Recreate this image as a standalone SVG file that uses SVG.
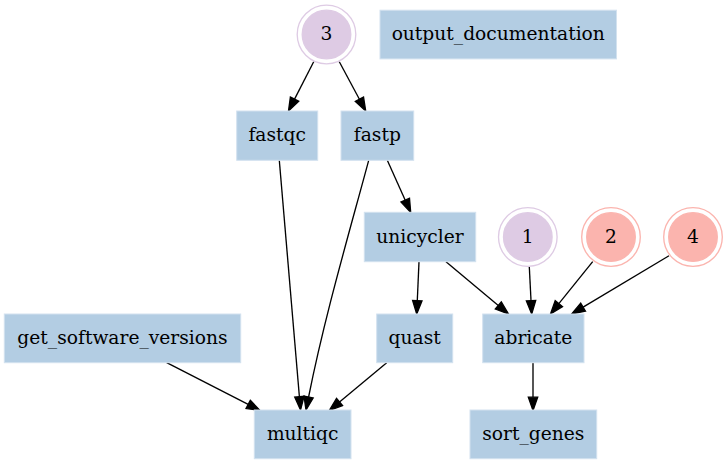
<svg xmlns="http://www.w3.org/2000/svg" width="728" height="464" viewBox="0 0 728 464">
<style>
.box{fill:#b3cde3;stroke:#d3e2ef;stroke-width:1}
.lbl{font-family:"DejaVu Serif",serif;font-size:18.67px;fill:#000;text-anchor:middle}
.pur{fill:#decbe4;stroke:#decbe4;stroke-width:1.33}
.red{fill:#fbb4ae;stroke:#fbb4ae;stroke-width:1.33}
.ring{fill:none;stroke-width:1.33}
.e{fill:none;stroke:#000;stroke-width:1.33;marker-end:url(#ah)}
</style>
<defs>
<marker id="ah" markerUnits="userSpaceOnUse" markerWidth="16" markerHeight="12" refX="0" refY="0" viewBox="-1 -6 16 12" orient="auto" overflow="visible">
<path d="M0,-4.67 L13.3,0 L0,4.67 Z" fill="#000" stroke="#000" stroke-width="1.33"/>
</marker>
</defs>
<rect width="728" height="464" fill="#fff"/>
<g id="connectors">
<path class="e" d="M313.7,61.7 L294.55,99.16"/>
<path class="e" d="M339.3,61.7 L359.42,99.27"/>
<path class="e" d="M279.3,160.3 L299.4,396.75"/>
<path class="e" d="M368.7,160.3 C347.1,240.3 324.6,317 308.6,397"/>
<path class="e" d="M387.3,160.3 L405.24,200.17"/>
<path class="e" d="M419,261.7 L417.29,300.71"/>
<path class="e" d="M446,261.7 L498.3,305.46"/>
<path class="e" d="M529.3,266.7 L531.03,300.72"/>
<path class="e" d="M592.7,261.7 L558.85,303.65"/>
<path class="e" d="M669,255.7 L583.11,307.16"/>
<path class="e" d="M166.7,362.7 L248.16,404.43"/>
<path class="e" d="M386.7,362.7 L339.52,401.99"/>
<path class="e" d="M533,362.7 L533,397.2"/>
</g>
<g id="n3">
<circle class="ring" cx="326.5" cy="34.5" r="29.3" stroke="#decbe4"/>
<circle class="pur" cx="326.5" cy="34.5" r="24.3"/>
<text class="lbl" x="326.5" y="40.1">3</text>
</g>
<g id="output_documentation">
<rect class="box" x="380" y="10.2" width="236.5" height="48.7"/>
<text class="lbl" x="498.25" y="40.1">output_documentation</text>
</g>
<g id="fastqc">
<rect class="box" x="236.7" y="111" width="81" height="49.3"/>
<text class="lbl" x="277.2" y="141.3">fastqc</text>
</g>
<g id="fastp">
<rect class="box" x="341" y="111" width="72.7" height="49.3"/>
<text class="lbl" x="377.35" y="141.3">fastp</text>
</g>
<g id="unicycler">
<rect class="box" x="364.3" y="212.3" width="111.4" height="49.4"/>
<text class="lbl" x="420" y="242.6">unicycler</text>
</g>
<g id="n1">
<circle class="ring" cx="527.8" cy="237" r="29.3" stroke="#decbe4"/>
<circle class="pur" cx="527.8" cy="237" r="24.3"/>
<text class="lbl" x="527.8" y="242.6">1</text>
</g>
<g id="n2">
<circle class="ring" cx="611" cy="237" r="29.3" stroke="#fbb4ae"/>
<circle class="red" cx="611" cy="237" r="24.3"/>
<text class="lbl" x="611" y="242.6">2</text>
</g>
<g id="n4">
<circle class="ring" cx="693" cy="237" r="29.3" stroke="#fbb4ae"/>
<circle class="red" cx="693" cy="237" r="24.3"/>
<text class="lbl" x="693" y="242.6">4</text>
</g>
<g id="get_software_versions">
<rect class="box" x="4.3" y="314" width="236.4" height="48.7"/>
<text class="lbl" x="122.5" y="343.9">get_software_versions</text>
</g>
<g id="quast">
<rect class="box" x="376.7" y="314" width="76" height="48.7"/>
<text class="lbl" x="414.7" y="343.9">quast</text>
</g>
<g id="abricate">
<rect class="box" x="482.7" y="314" width="101.3" height="48.7"/>
<text class="lbl" x="533.35" y="343.9">abricate</text>
</g>
<g id="multiqc">
<rect class="box" x="254.3" y="410" width="96.7" height="48.7"/>
<text class="lbl" x="302.65" y="439.9">multiqc</text>
</g>
<g id="sort_genes">
<rect class="box" x="470" y="410" width="126.7" height="48.7"/>
<text class="lbl" x="533.35" y="439.9">sort_genes</text>
</g>
</svg>
